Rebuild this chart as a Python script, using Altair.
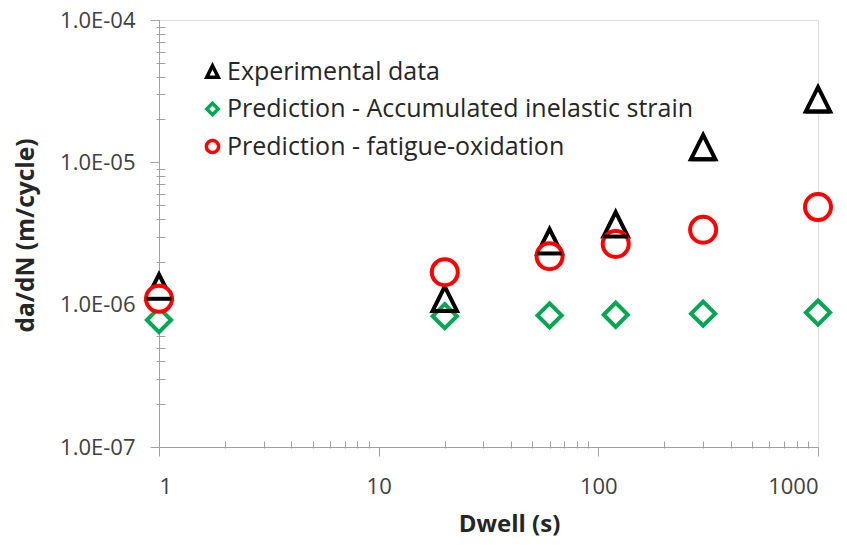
import altair as alt
import pandas as pd

# ---- data ----
dwell = [1, 20, 60, 120, 300, 1000]
experimental = [1.34e-6, 1.10e-6, 2.79e-6, 3.67e-6, 1.28e-5, 2.77e-5]
pred_inelastic = [7.8e-7, 8.3e-7, 8.4e-7, 8.5e-7, 8.65e-7, 8.8e-7]
pred_oxidation = [1.10e-6, 1.69e-6, 2.19e-6, 2.67e-6, 3.36e-6, 4.85e-6]

series_names = [
    "Experimental data",
    "Prediction - Accumulated inelastic strain",
    "Prediction - fatigue-oxidation",
]
series_colors = ["#000000", "#00A650", "#FF0000"]
series_shapes = [
    "M0,-0.94L0.94,0.94L-0.94,0.94Z",
    "M0,-0.93L0.93,0L0,0.93L-0.93,0Z",
    "circle",
]

x_major = [1, 10, 100, 1000]
x_minor = [2, 3, 4, 5, 6, 7, 8, 9, 20, 30, 40, 50, 60, 70, 80, 90,
           200, 300, 400, 500, 600, 700, 800, 900]
y_major = [1e-7, 1e-6, 1e-5, 1e-4]
y_minor = [m * 10.0 ** e for e in (-7, -6, -5) for m in range(2, 10)]

rows = []
for k, (name, vals) in enumerate(zip(series_names, [experimental, pred_inelastic, pred_oxidation])):
    for d, v in zip(dwell, vals):
        rows.append({"dwell": d, "dadn": v, "series": name, "order": k})
df = pd.DataFrame(rows)

FONT = "Open Sans"
AXIS_GRAY = "#A0A0A0"
LABEL = "#404040"

xscale = alt.Scale(type="log", domain=[1, 1000], nice=False)
yscale = alt.Scale(type="log", domain=[1e-7, 1e-4], nice=False)

x_axis_major = alt.Axis(
    orient="bottom",
    values=x_major, format="d", tickSize=9, tickColor=AXIS_GRAY, domainColor=AXIS_GRAY,
    labelFont=FONT, labelFontSize=22, labelColor=LABEL, labelPadding=20,
    grid=False, title="Dwell (s)", titleFont=FONT, titleFontSize=24, titleFontWeight="bold",
    titleColor="#262626", titleX=350, titleY=77, titleBaseline="middle",
    titleAlign="center",
)
y_axis_major = alt.Axis(
    orient="left",
    values=y_major, labelExpr="replace(upper(format(datum.value, '.1e')), 'E-', 'E-0')",
    tickSize=9, tickColor=AXIS_GRAY, domainColor=AXIS_GRAY,
    labelFont=FONT, labelFontSize=22, labelColor=LABEL, labelPadding=15,
    grid=False, title="da/dN (m/cycle)", titleFont=FONT, titleFontSize=24.5,
    titleFontWeight="bold", titleColor="#262626", titleX=-133, titleY=215,
    titleBaseline="middle", titleAlign="center", titleAngle=270,
)
x_axis_minor = alt.Axis(orient="bottom", values=x_minor, labels=False, domain=False,
                        tickSize=7, offset=-6, tickColor=AXIS_GRAY, grid=False, title=None)
y_axis_minor = alt.Axis(orient="left", values=y_minor, labels=False, domain=False,
                        tickSize=9, offset=-6, tickColor=AXIS_GRAY, grid=False, title=None)

legend = alt.Legend(
    title=None, orient="none", legendX=41, legendY=39, padding=0,
    labelFont=FONT, labelFontSize=25, labelColor="#262626", labelOffset=2,
    symbolSize=150, symbolStrokeWidth=3.5, symbolFillColor="white", rowPadding=10.5,
    labelLimit=700,
)

points = alt.Chart(df).mark_point(filled=True, fill="white", strokeWidth=4, size=676, opacity=1).encode(
    x=alt.X("dwell:Q", scale=xscale, axis=x_axis_major),
    y=alt.Y("dadn:Q", scale=yscale, axis=y_axis_major),
    stroke=alt.Stroke("series:N", scale=alt.Scale(domain=series_names, range=series_colors), legend=legend),
    shape=alt.Shape("series:N", scale=alt.Scale(domain=series_names, range=series_shapes), legend=legend),
    order=alt.Order("order:Q"),
)

# the dark bar visible across the experimental markers
bars = alt.Chart(df).transform_filter(
    alt.datum.series == series_names[0]
).mark_point(shape="M-0.95,0.94L0.95,0.94", filled=False, stroke="#000000", strokeWidth=4,
             size=676, opacity=1).encode(
    x=alt.X("dwell:Q", scale=xscale, axis=x_axis_minor),
    y=alt.Y("dadn:Q", scale=yscale, axis=y_axis_minor),
)

chart = alt.layer(points, bars).resolve_axis(x="independent", y="independent").properties(
    width=659, height=427,
    autosize=alt.AutoSizeParams(type="none"),
    padding={"left": 151, "top": 12, "right": 21, "bottom": 90},
).configure_view(stroke=AXIS_GRAY, strokeWidth=1).configure(background="white")

chart.save("out.html", embed_options={"renderer": "svg", "actions": False})
